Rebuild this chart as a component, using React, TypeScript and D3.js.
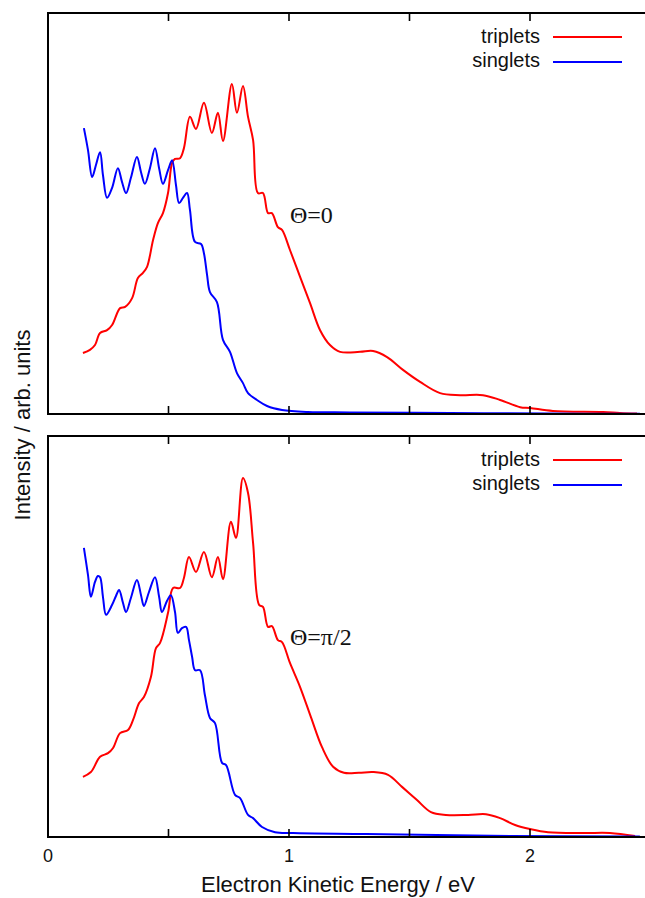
import React from 'react';
import * as d3 from 'd3';

// ---------- DATA ----------
const xTickValues = [0, 0.5, 1, 1.5, 2, 2.5];
const xLabelValues = [0, 1, 2];
const xLabelTexts = ['0', '1', '2'];

const topSingletsE = [0.149, 0.166, 0.183, 0.199, 0.216, 0.228, 0.245, 0.266, 0.290, 0.307, 0.324, 0.344, 0.369, 0.386, 0.402, 0.423, 0.444, 0.461, 0.477, 0.498, 0.515, 0.531, 0.544, 0.560, 0.577, 0.589, 0.610, 0.635, 0.647, 0.660, 0.672, 0.701, 0.726, 0.755, 0.784, 0.809, 0.830, 0.867, 0.909, 0.971, 1.079, 1.253, 1.668, 2.083, 2.456];
const topSingletsI = [71.3, 65.8, 59.1, 62.1, 65.3, 59.6, 53.9, 56.4, 61.3, 57.9, 55.1, 58.9, 64.1, 60.3, 57.4, 61.3, 66.3, 61.3, 57.4, 60.8, 63.3, 57.1, 52.6, 53.9, 55.1, 50.9, 42.9, 42.4, 40.1, 34.7, 30.4, 27.9, 18.5, 15.5, 10.2, 7.7, 5.2, 3.5, 2.0, 1.0, 0.5, 0.4, 0.25, 0.12, 0.05];

const topTripletsE = [0.145, 0.174, 0.195, 0.216, 0.245, 0.266, 0.299, 0.320, 0.349, 0.373, 0.394, 0.411, 0.436, 0.456, 0.477, 0.498, 0.515, 0.527, 0.548, 0.564, 0.589, 0.614, 0.647, 0.680, 0.705, 0.726, 0.763, 0.784, 0.809, 0.830, 0.851, 0.871, 0.892, 0.913, 0.929, 0.954, 0.971, 1.004, 1.046, 1.087, 1.129, 1.170, 1.212, 1.295, 1.349, 1.407, 1.473, 1.544, 1.627, 1.710, 1.805, 1.876, 1.959, 2.000, 2.095, 2.303, 2.373, 2.444];
const topTripletsI = [15.2, 16.0, 17.2, 20.2, 20.9, 22.2, 26.4, 26.7, 28.9, 33.9, 35.2, 36.7, 43.4, 47.6, 50.1, 55.1, 62.6, 63.6, 63.8, 66.3, 74.1, 71.1, 77.6, 70.1, 75.1, 68.1, 82.3, 75.1, 81.8, 74.1, 68.3, 55.1, 55.1, 50.1, 50.1, 46.6, 45.9, 40.9, 34.2, 27.7, 20.9, 17.2, 15.5, 15.5, 15.7, 14.2, 11.0, 8.0, 5.2, 4.7, 4.7, 3.5, 1.7, 1.5, 0.75, 0.5, 0.25, 0.12];

const botSingletsE = [0.149, 0.166, 0.178, 0.195, 0.207, 0.216, 0.228, 0.241, 0.266, 0.282, 0.295, 0.311, 0.324, 0.344, 0.369, 0.386, 0.398, 0.419, 0.444, 0.461, 0.473, 0.494, 0.510, 0.527, 0.539, 0.556, 0.573, 0.585, 0.598, 0.610, 0.631, 0.651, 0.672, 0.693, 0.722, 0.739, 0.776, 0.797, 0.830, 0.851, 0.888, 0.942, 1.017, 1.320, 1.921, 2.456];
const botSingletsI = [72.1, 65.3, 59.9, 63.6, 65.1, 64.8, 59.9, 55.4, 57.9, 60.1, 61.6, 58.4, 56.1, 59.6, 64.1, 60.3, 57.6, 61.1, 64.8, 59.9, 56.1, 58.9, 60.3, 56.1, 50.9, 52.1, 52.4, 49.1, 44.9, 41.6, 41.6, 35.4, 29.7, 28.4, 18.5, 17.9, 10.5, 9.7, 5.5, 4.7, 2.5, 1.2, 1.0, 0.75, 0.25, 0.12];

const botTripletsE = [0.145, 0.178, 0.216, 0.249, 0.270, 0.299, 0.332, 0.353, 0.378, 0.398, 0.427, 0.448, 0.465, 0.498, 0.519, 0.548, 0.564, 0.585, 0.614, 0.647, 0.680, 0.705, 0.726, 0.759, 0.780, 0.809, 0.830, 0.851, 0.876, 0.892, 0.913, 0.929, 0.954, 0.971, 1.004, 1.046, 1.091, 1.137, 1.183, 1.228, 1.290, 1.349, 1.411, 1.469, 1.531, 1.589, 1.651, 1.743, 1.817, 1.876, 1.938, 2.000, 2.075, 2.224, 2.332, 2.436];
const botTripletsI = [15.0, 16.2, 20.0, 20.9, 22.2, 25.9, 26.7, 29.2, 33.4, 34.9, 39.9, 47.1, 48.4, 55.9, 62.1, 62.1, 64.6, 69.8, 66.1, 71.1, 64.8, 69.8, 64.3, 78.6, 74.6, 89.5, 85.8, 73.3, 57.9, 57.4, 52.4, 52.6, 49.1, 48.6, 43.4, 37.4, 29.9, 22.4, 17.5, 16.0, 16.0, 16.2, 15.5, 12.5, 9.2, 6.2, 5.5, 5.5, 5.7, 4.7, 3.0, 2.0, 1.2, 1.0, 1.0, 0.25];

const seriesNames = ['triplets', 'singlets'];
const seriesColors = ['#ff0000', '#0000ff'];
const panelLabels = ['Θ=0', 'Θ=π/2'];
const xAxisTitle = 'Electron Kinetic Energy / eV';
const yAxisTitle = 'Intensity / arb. units';

// ---------- LAYOUT ----------
const W = 645;
const H = 898;
const left = 48;
const right = 650.5;
const panels = [
  { top: 13, bottom: 414, trip: [topTripletsE, topTripletsI], sing: [topSingletsE, topSingletsI], label: panelLabels[0], labelY: 223 },
  { top: 436, bottom: 837, trip: [botTripletsE, botTripletsI], sing: [botSingletsE, botSingletsI], label: panelLabels[1], labelY: 645 },
];

const x = d3.scaleLinear().domain([0, 2.5]).range([left, right]);

function makePath(es: number[], is: number[], y: d3.ScaleLinear<number, number>) {
  const pts: [number, number][] = es.map((e, i) => [e, is[i]]);
  const line = d3.line<[number, number]>()
    .x(d => x(d[0]))
    .y(d => y(d[1]))
    .curve(d3.curveCatmullRom.alpha(0.5));
  return line(pts) || '';
}

export default function App() {
  const sans = '"Liberation Sans", Arial, Helvetica, sans-serif';
  const serif = '"Liberation Serif", "Times New Roman", serif';
  return (
    <div style={{ position: 'absolute', left: 0, top: 0 }}>
      <svg width={W} height={H} style={{ display: 'block', background: '#fff' }}>
        {panels.map((p, pi) => {
          const y = d3.scaleLinear().domain([0, 100]).range([p.bottom, p.top]);
          return (
            <g key={pi}>
              {seriesNames.map((name, si) => {
                const d = si === 0 ? p.trip : p.sing;
                return (
                  <path key={name} d={makePath(d[0], d[1], y)} fill="none"
                    stroke={seriesColors[si]} strokeWidth={2} strokeLinejoin="round" />
                );
              })}
              <rect x={left} y={p.top} width={right - left} height={p.bottom - p.top}
                fill="none" stroke="#000" strokeWidth={2} />
              {xTickValues.map(t => (
                <g key={t}>
                  <line x1={x(t)} x2={x(t)} y1={p.top} y2={p.top + 8} stroke="#000" strokeWidth={1.6} />
                  <line x1={x(t)} x2={x(t)} y1={p.bottom} y2={p.bottom - 8} stroke="#000" strokeWidth={1.6} />
                </g>
              ))}
              {seriesNames.map((name, si) => (
                <g key={name}>
                  <text x={540} y={p.top + 30 + si * 24} textAnchor="end" fontFamily={sans} fontSize={20} fill="#111">{name}</text>
                  <line x1={553} x2={622} y1={p.top + 24 + si * 25} y2={p.top + 24 + si * 25}
                    stroke={seriesColors[si]} strokeWidth={2} />
                </g>
              ))}
              <text x={290} y={p.labelY} fontFamily={serif} fontSize={24} fill="#111">{p.label}</text>
            </g>
          );
        })}
        {xLabelValues.map((v, i) => (
          <text key={v} x={x(v)} y={862} textAnchor="middle" fontFamily={sans} fontSize={18} fill="#111">{xLabelTexts[i]}</text>
        ))}
        <text x={338} y={892} textAnchor="middle" fontFamily={sans} fontSize={22} fill="#111">{xAxisTitle}</text>
        <text transform={`translate(30, 425) rotate(-90)`} textAnchor="middle" fontFamily={sans} fontSize={22} fill="#111">{yAxisTitle}</text>
      </svg>
    </div>
  );
}
